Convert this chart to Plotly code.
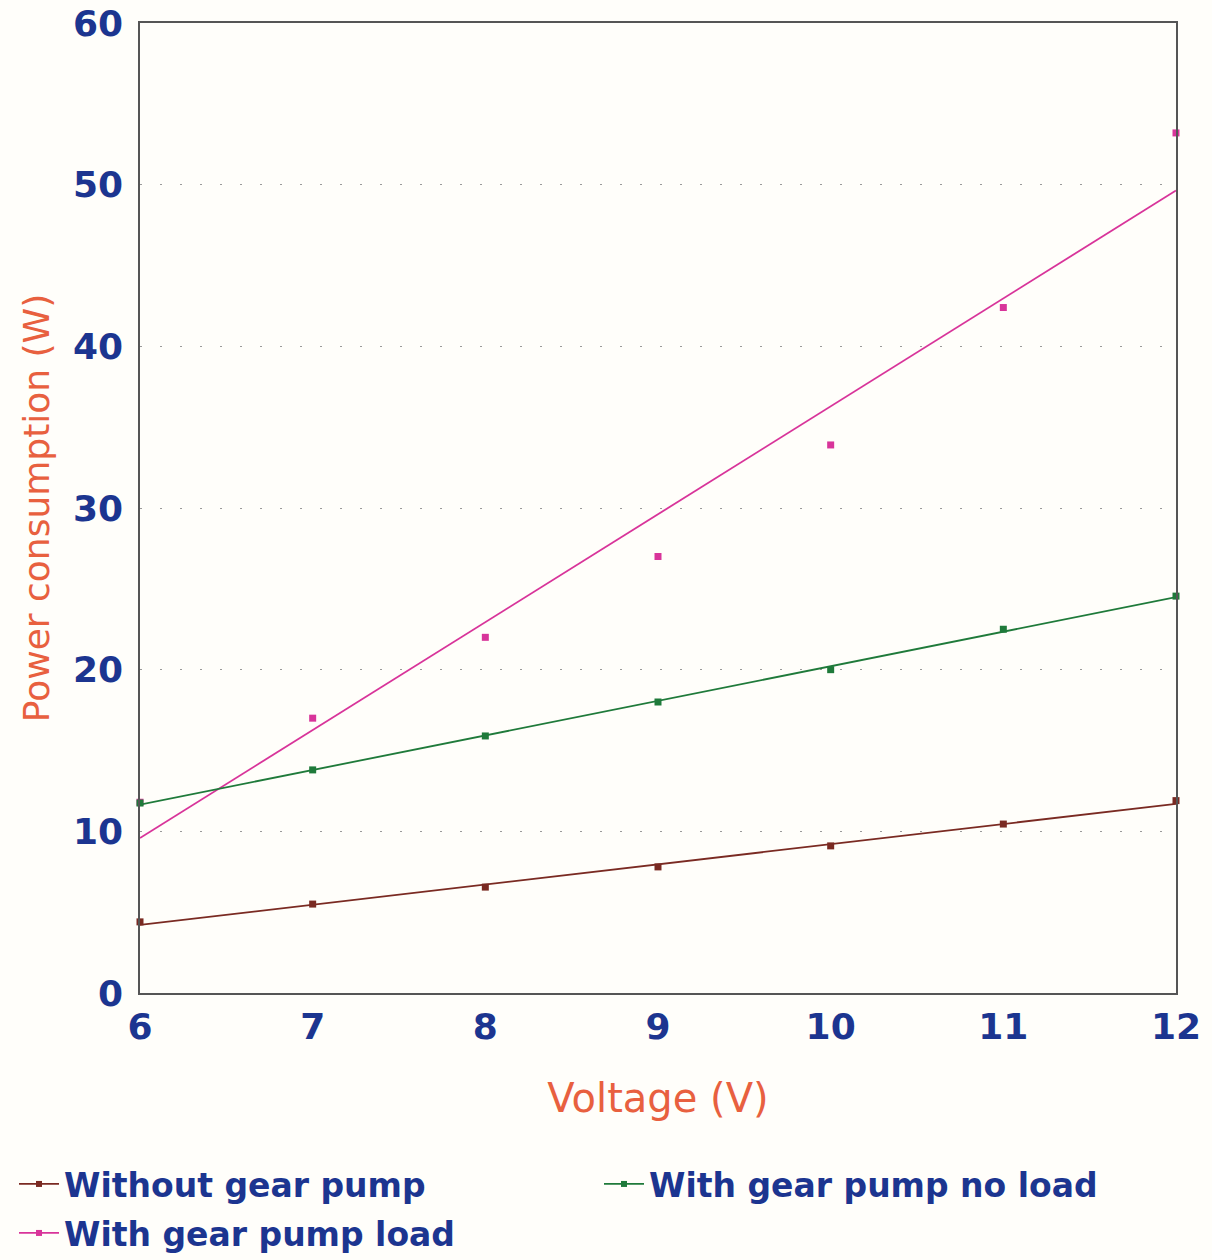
import numpy as np
import plotly.graph_objects as go

# Measured power draw at each supply voltage
voltage = [6, 7, 8, 9, 10, 11, 12]
without_pump = [4.4, 5.5, 6.55, 7.8, 9.1, 10.45, 11.9]
pump_no_load = [11.75, 13.8, 15.9, 18.0, 20.0, 22.5, 24.55]
pump_load = [11.8, 17.0, 22.0, 27.0, 33.9, 42.4, 53.2]

series_names = ["Without gear pump", "With gear pump no load", "With gear pump load"]
x_ticks = [6, 7, 8, 9, 10, 11, 12]
y_ticks = [0, 10, 20, 30, 40, 50, 60]

colors = {
    "Without gear pump": "#7a2a22",
    "With gear pump no load": "#1f7a3a",
    "With gear pump load": "#d8349a",
}
series = {
    "Without gear pump": without_pump,
    "With gear pump no load": pump_no_load,
    "With gear pump load": pump_load,
}
# each legend entry gets its own legend box so the grid can be placed freely
legend_of = {
    "Without gear pump": "legend",
    "With gear pump no load": "legend2",
    "With gear pump load": "legend3",
}

TEXT_BLUE = "#1c3590"
TITLE_RED = "#e8603f"

fig = go.Figure()

# draw the loaded series first so the green marker sits on top at 6 V
draw_order = ["With gear pump load", "Without gear pump", "With gear pump no load"]
x_span = np.array([min(voltage), max(voltage)], dtype=float)
for name in draw_order:
    y = series[name]
    slope, intercept = np.polyfit(voltage, y, 1)
    fig.add_trace(go.Scatter(
        x=x_span, y=slope * x_span + intercept, mode="lines",
        line=dict(color=colors[name], width=1.8),
        showlegend=False, hoverinfo="skip", cliponaxis=False,
    ))
    fig.add_trace(go.Scatter(
        x=voltage, y=y, mode="markers",
        marker=dict(symbol="square", size=7, color=colors[name]),
        showlegend=False, name=name, cliponaxis=False,
    ))

# legend entries: short line with a marker in the middle
for name in series_names:
    fig.add_trace(go.Scatter(
        x=[None], y=[None], mode="lines+markers", name=name,
        line=dict(color=colors[name], width=1.8),
        marker=dict(symbol="square", size=6, color=colors[name]),
        legend=legend_of[name],
    ))

legend_font = dict(family="DejaVu Sans", size=33, color=TEXT_BLUE, weight="bold")
legend_common = dict(
    orientation="h",
    xref="container", yref="container",
    xanchor="left", yanchor="top",
    font=legend_font, itemwidth=40,
    bgcolor="rgba(0,0,0,0)",
)

fig.update_layout(
    width=1212, height=1260,
    margin=dict(l=140, r=36, t=23, b=267),
    paper_bgcolor="#fffefa",
    plot_bgcolor="#fffefa",
    showlegend=True,
    legend=dict(x=14 / 1212, y=1 - 1156 / 1260, **legend_common),
    legend2=dict(x=599 / 1212, y=1 - 1156 / 1260, **legend_common),
    legend3=dict(x=14 / 1212, y=1 - 1205 / 1260, **legend_common),
    xaxis=dict(
        range=[6, 12], tickvals=x_ticks, ticktext=[str(v) for v in x_ticks],
        showgrid=False, zeroline=False, automargin=False,
        showline=True, linecolor="#555555", linewidth=1.5, mirror=True,
        ticks="", ticklabelstandoff=1,
        tickfont=dict(family="DejaVu Sans", size=36, color=TEXT_BLUE, weight="bold"),
        title=dict(text="Voltage (V)", standoff=38,
                   font=dict(family="DejaVu Sans", size=40, color=TITLE_RED)),
    ),
    yaxis=dict(
        range=[0, 60], tickvals=y_ticks, ticktext=[str(v) for v in y_ticks],
        showgrid=True, gridcolor="#9a9a9a", gridwidth=1.3, griddash="2px,18px",
        zeroline=False, automargin=False,
        showline=True, linecolor="#555555", linewidth=1.5, mirror=True,
        ticks="", ticklabelstandoff=8,
        tickfont=dict(family="DejaVu Sans", size=36, color=TEXT_BLUE, weight="bold"),
        title=dict(text="Power consumption (W)", standoff=12,
                   font=dict(family="DejaVu Sans", size=36, color=TITLE_RED)),
    ),
)

fig.write_html("out.html")
